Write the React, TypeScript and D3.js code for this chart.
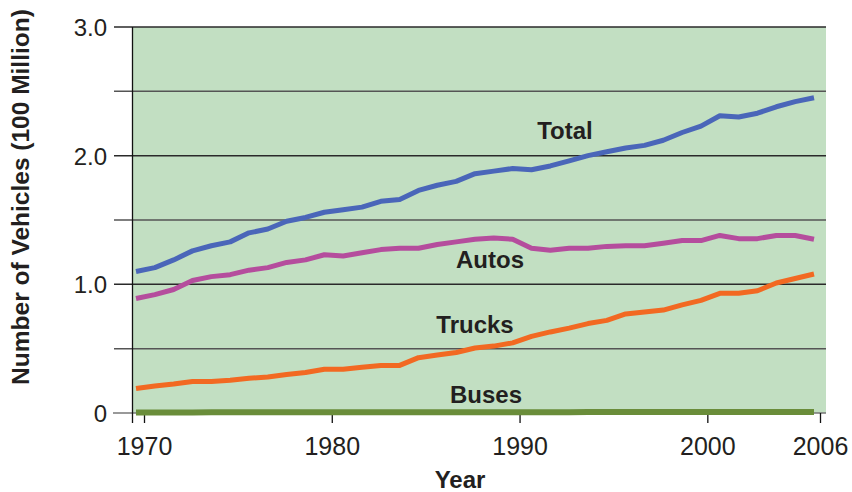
import { useEffect, useRef } from "react";
import * as d3 from "d3";

const years = d3.range(1970, 2007);
const total = [1.10, 1.13, 1.19, 1.26, 1.30, 1.33, 1.40, 1.43, 1.49, 1.52, 1.56, 1.58, 1.60, 1.645, 1.66, 1.73, 1.77, 1.80, 1.86, 1.88, 1.90, 1.89, 1.92, 1.96, 2.00, 2.03, 2.06, 2.08, 2.12, 2.18, 2.23, 2.31, 2.30, 2.33, 2.38, 2.42, 2.45];
const autos = [0.89, 0.92, 0.96, 1.03, 1.06, 1.075, 1.11, 1.13, 1.17, 1.19, 1.23, 1.22, 1.245, 1.27, 1.28, 1.28, 1.31, 1.33, 1.35, 1.36, 1.35, 1.28, 1.265, 1.28, 1.28, 1.295, 1.30, 1.30, 1.32, 1.34, 1.34, 1.38, 1.355, 1.355, 1.38, 1.38, 1.35];
const trucks = [0.19, 0.21, 0.225, 0.245, 0.245, 0.255, 0.27, 0.28, 0.30, 0.315, 0.34, 0.34, 0.355, 0.37, 0.37, 0.43, 0.45, 0.47, 0.505, 0.52, 0.545, 0.595, 0.63, 0.66, 0.695, 0.72, 0.77, 0.785, 0.80, 0.84, 0.875, 0.93, 0.93, 0.95, 1.01, 1.045, 1.08];
const buses = [0.004, 0.004, 0.004, 0.004, 0.005, 0.005, 0.005, 0.005, 0.005, 0.005, 0.005, 0.005, 0.006, 0.006, 0.006, 0.006, 0.006, 0.006, 0.006, 0.006, 0.006, 0.006, 0.006, 0.006, 0.007, 0.007, 0.007, 0.007, 0.007, 0.007, 0.007, 0.007, 0.008, 0.008, 0.008, 0.008, 0.008];

const xTicks = [1970, 1980, 1990, 2000, 2006];
const yTicks = [0, 1, 2, 3];
const gridValues = [0.5, 1, 1.5, 2, 2.5, 3];

const series = [
  { name: "Total", values: total, color: "#4a66b9", lx: 565, ly: 139 },
  { name: "Autos", values: autos, color: "#b54d9d", lx: 490, ly: 268 },
  { name: "Trucks", values: trucks, color: "#f26922", lx: 475, ly: 333 },
  { name: "Buses", values: buses, color: "#6a8d3a", lx: 486, ly: 403 },
];

export default function App() {
  const ref = useRef<SVGSVGElement>(null);

  useEffect(() => {
    const svg = d3.select(ref.current);
    svg.selectAll("*").remove();

    const plot = { left: 133, right: 826, top: 27, bottom: 413 };

    const xScale = d3.scaleLinear().domain([1970, 2006]).range([136, 814]);
    // tick labels in the source sit a little to the right of the data points
    const xAxisScale = xScale.copy().range([144, 820]);
    const yScale = d3.scaleLinear().domain([0, 3]).range([plot.bottom, plot.top]);

    // background
    svg.append("rect")
      .attr("x", plot.left)
      .attr("y", plot.top)
      .attr("width", plot.right - plot.left)
      .attr("height", plot.bottom - plot.top)
      .attr("fill", "#c2dfc2");

    // gridlines
    svg.append("g")
      .selectAll("line")
      .data(gridValues)
      .join("line")
      .attr("x1", 114)
      .attr("x2", plot.right)
      .attr("y1", d => yScale(d))
      .attr("y2", d => yScale(d))
      .attr("stroke", (d, i) => (i % 2 === 0 ? "#555" : "#2a2a2a"))
      .attr("stroke-width", 1.5);

    // zero line
    svg.append("line")
      .attr("x1", 113)
      .attr("x2", plot.right)
      .attr("y1", yScale(0))
      .attr("y2", yScale(0))
      .attr("stroke", "#777")
      .attr("stroke-width", 1.5);

    // y axis line
    svg.append("line")
      .attr("x1", 132.5)
      .attr("x2", 132.5)
      .attr("y1", plot.top)
      .attr("y2", 423)
      .attr("stroke", "#111")
      .attr("stroke-width", 1.3);

    // y axis labels
    const yAxis = d3.axisLeft(yScale)
      .tickValues(yTicks)
      .tickSize(0)
      .tickPadding(0)
      .tickFormat(d => (+d === 0 ? "0" : d3.format(".1f")(+d)));
    const yg = svg.append("g").attr("transform", "translate(107,0)").call(yAxis);
    yg.select(".domain").remove();
    yg.selectAll(".tick text")
      .attr("font-family", "'Liberation Sans', Arial, sans-serif")
      .attr("font-size", 24)
      .attr("fill", "#231f20")
      .attr("dy", "0.36em");

    // x axis
    const xAxis = d3.axisBottom(xAxisScale)
      .tickValues(xTicks)
      .tickSize(10)
      .tickPadding(14)
      .tickFormat(d3.format("d"));
    const xg = svg.append("g").attr("transform", `translate(0,${plot.bottom})`).call(xAxis);
    xg.select(".domain").remove();
    xg.selectAll(".tick line").attr("stroke", "#111").attr("stroke-width", 1.3);
    xg.selectAll(".tick text")
      .attr("font-family", "'Liberation Sans', Arial, sans-serif")
      .attr("font-size", 25)
      .attr("fill", "#231f20");

    // lines
    const line = d3.line<number>()
      .x((d, i) => xScale(years[i]))
      .y(d => yScale(d));

    svg.append("g")
      .selectAll("path")
      .data(series)
      .join("path")
      .attr("d", d => line(d.values))
      .attr("fill", "none")
      .attr("stroke", d => d.color)
      .attr("stroke-width", d => (d.name === "Buses" ? 6 : 5))
      .attr("stroke-linejoin", "round");

    // series labels
    svg.append("g")
      .selectAll("text")
      .data(series)
      .join("text")
      .attr("x", d => d.lx)
      .attr("y", d => d.ly)
      .attr("text-anchor", "middle")
      .attr("font-family", "'Liberation Sans Narrow', 'Liberation Sans', Arial, sans-serif")
      .attr("font-weight", "bold")
      .attr("font-size", 24)
      .attr("fill", "#231f20")
      .text(d => d.name);

    // axis titles
    svg.append("text")
      .attr("x", 460)
      .attr("y", 488)
      .attr("text-anchor", "middle")
      .attr("font-family", "'Liberation Sans', Arial, sans-serif")
      .attr("font-weight", "bold")
      .attr("font-size", 24)
      .attr("fill", "#231f20")
      .text("Year");

    svg.append("text")
      .attr("transform", "translate(29,197) rotate(-90)")
      .attr("text-anchor", "middle")
      .attr("font-family", "'Liberation Sans', Arial, sans-serif")
      .attr("font-weight", "bold")
      .attr("font-size", 24.5)
      .attr("fill", "#231f20")
      .text("Number of Vehicles (100 Million)");
  }, []);

  return (
    <div style={{ position: "absolute", left: 0, top: 0 }}>
      <svg ref={ref} width={852} height={492} style={{ display: "block", background: "#fff" }}></svg>
    </div>
  );
}
